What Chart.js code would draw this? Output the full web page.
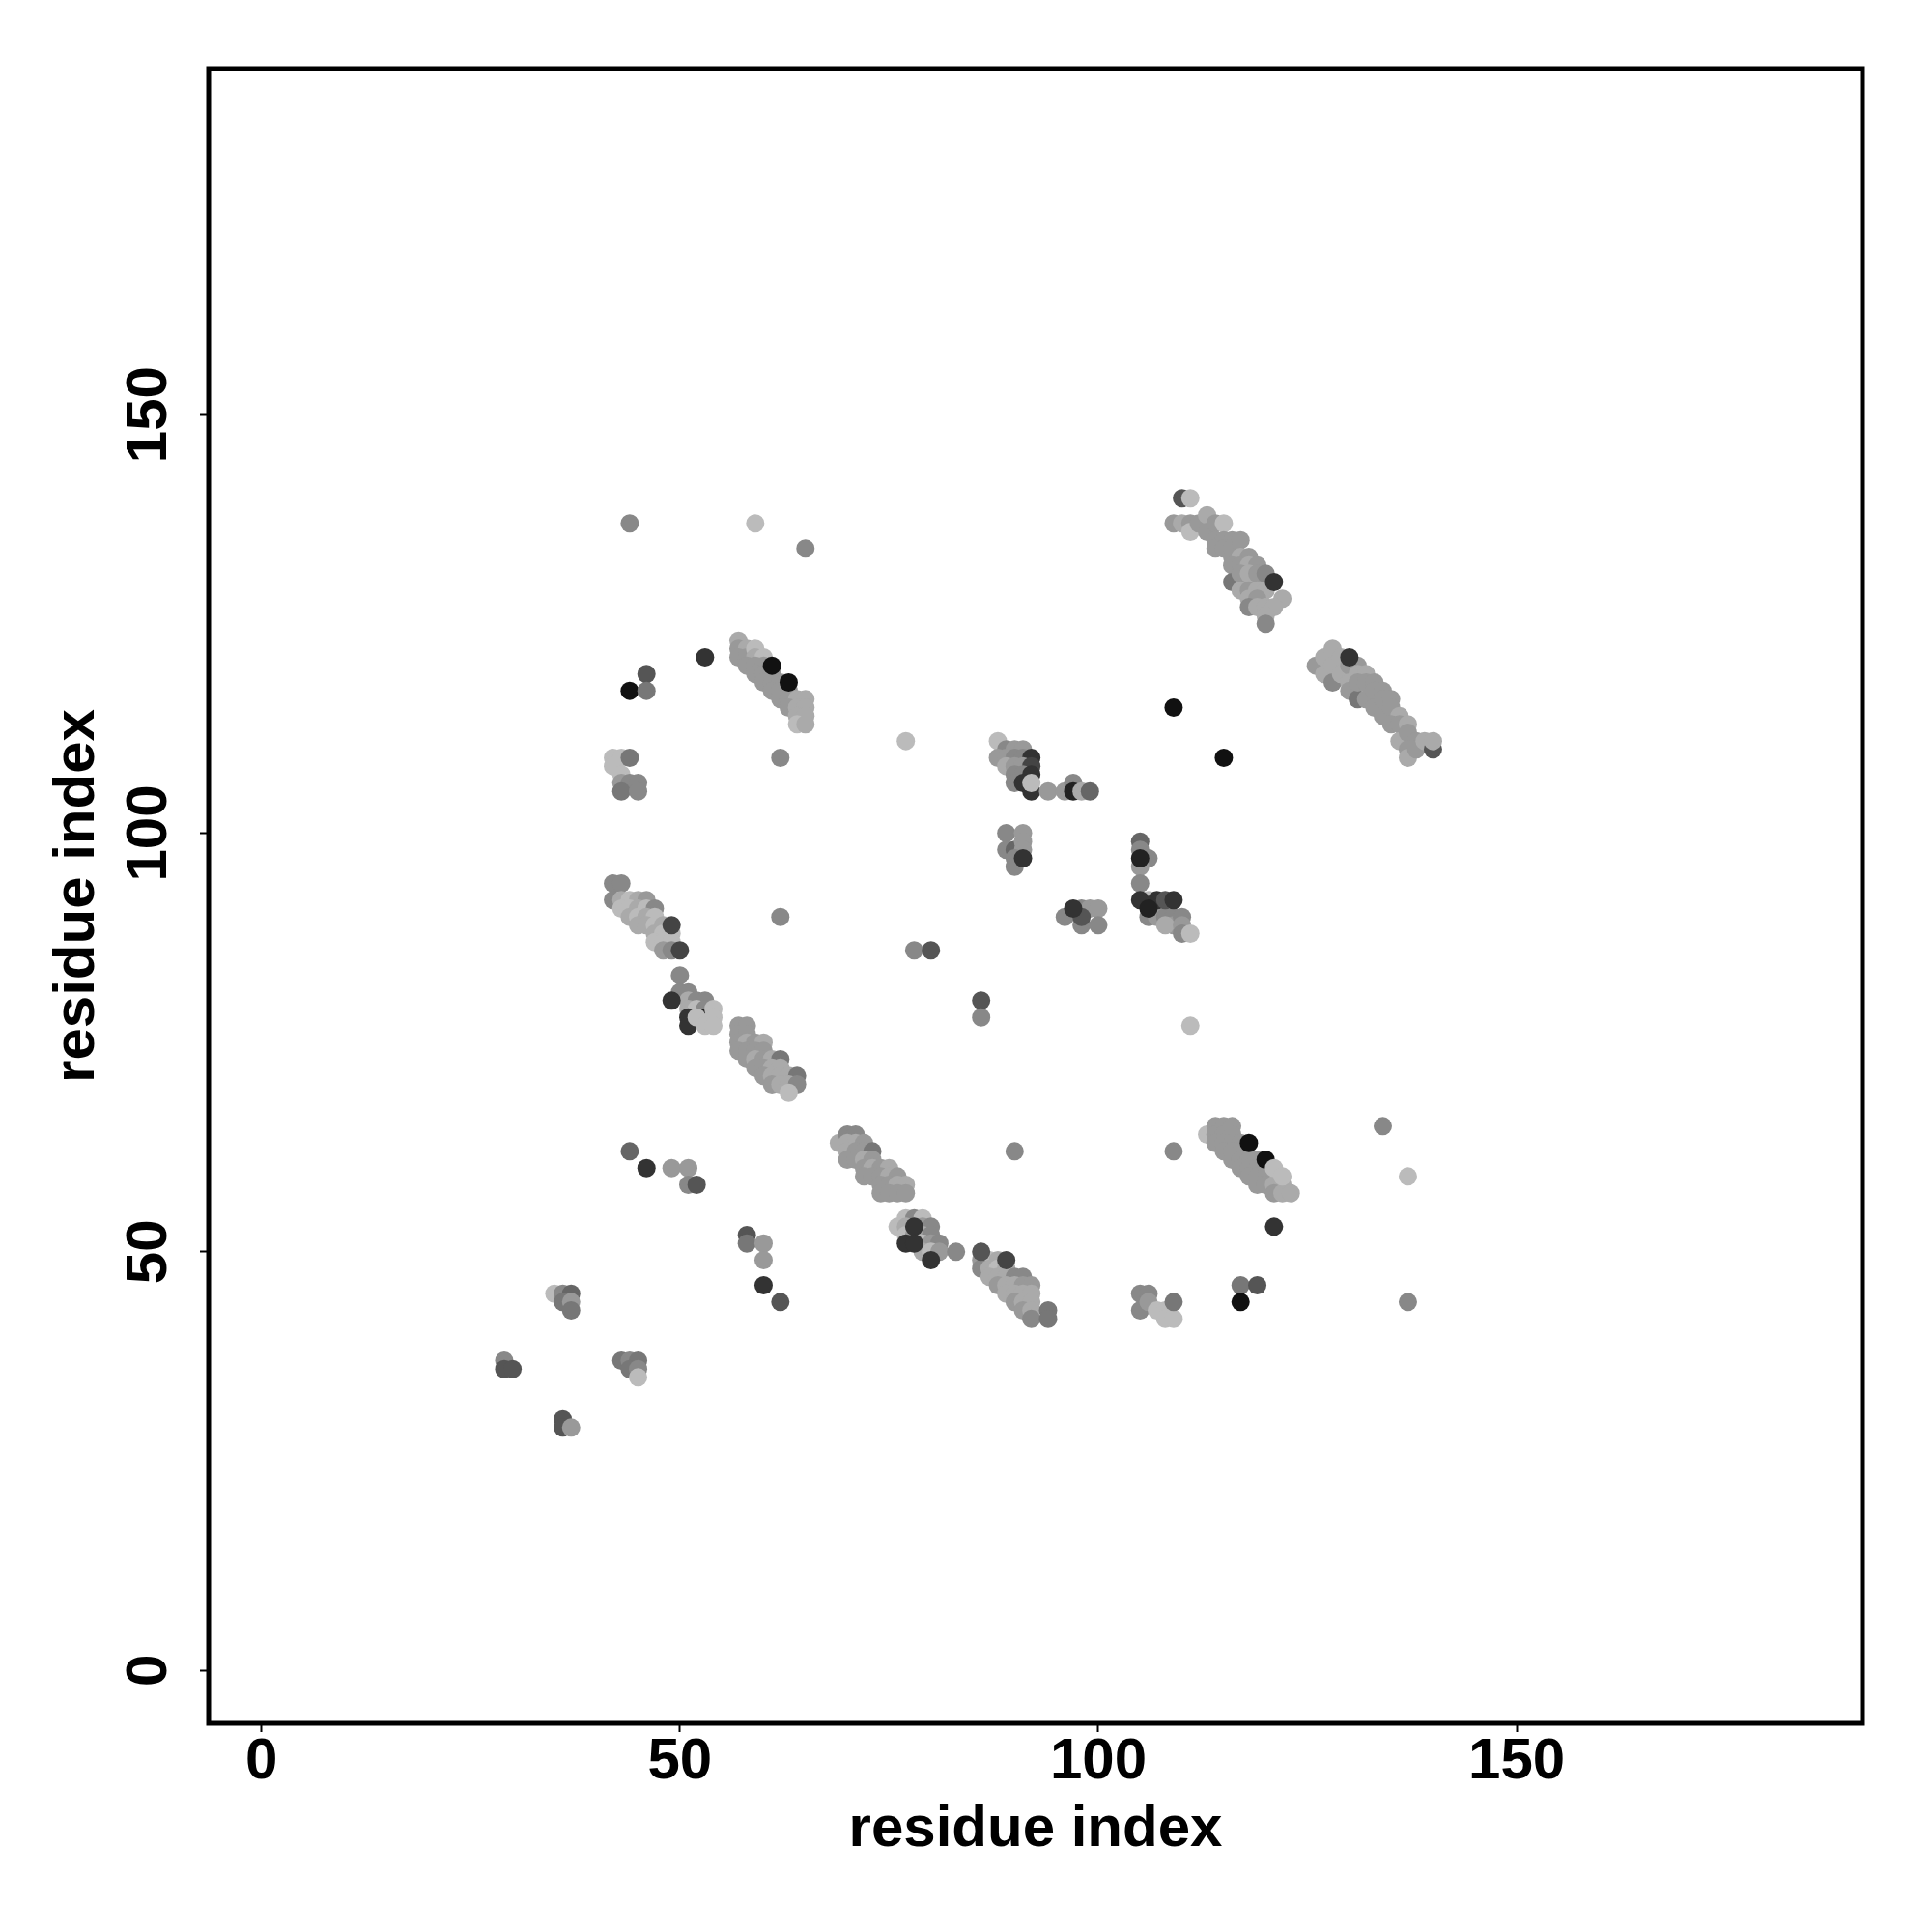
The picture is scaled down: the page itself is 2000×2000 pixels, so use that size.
<!DOCTYPE html>
<html>
<head>
<meta charset="utf-8">
<script src="https://cdn.jsdelivr.net/npm/chart.js@4.4.1/dist/chart.umd.min.js"></script>
<style>
  html, body { margin: 0; padding: 0; background: #fff; }
  canvas { display: block; }
</style>
</head>
<body>
<canvas id="contactMap" width="2000" height="2000"></canvas>
<script>
// residue pairs [i, j, grey level]
const strayContacts = [
  [44,137,0x88],[59,137,0xbb],[65,134,0x88],[53,121,0x33],[46,119,0x55],[44,117,0x11],
  [46,117,0x77],[62,109,0x88],[77,111,0xbb],[109,115,0x11],[115,109,0x11],[62,90,0x88],
  [78,86,0x88],[80,86,0x55],[86,80,0x55],[86,78,0x88],[111,77,0xbb],[90,62,0x88],
  [109,62,0x88],[134,65,0x88],[137,59,0xbb],[121,53,0x33],[117,46,0x77],[119,46,0x55],
  [117,44,0x11],[137,44,0x88]
];

const sheetTopRight = [
  [110,140,0x55],[111,140,0xbb],[109,137,0x99],[110,137,0xaa],[111,137,0x99],[111,136,0xbb],
  [112,137,0x99],[113,138,0xaa],[113,136,0x99],[114,137,0x99],[115,137,0xbb],[114,135,0x99],
  [115,135,0x99],[116,135,0x99],[114,134,0x99],[115,134,0x99],[116,134,0x99],[117,135,0x99],
  [116,133,0x99],[117,133,0xaa],[118,133,0x99],[116,132,0x99],[117,132,0x99],[118,132,0xaa],
  [119,132,0x99],[116,130,0x77],[117,131,0x99],[118,131,0xaa],[119,131,0x99],[120,131,0x88],
  [117,129,0xaa],[118,129,0x99],[119,129,0xaa],[120,129,0xaa],[118,128,0xaa],[119,128,0x99],
  [122,128,0xaa],[118,127,0x88],[119,127,0xaa],[120,127,0xaa],[121,127,0xaa],[120,126,0xaa],
  [120,125,0x88],[121,130,0x33]
];

const sheetRight = [
  [126,120,0x99],[127,121,0xaa],[128,122,0xaa],[127,119,0xaa],[128,120,0xaa],[129,121,0xaa],
  [128,118,0x88],[129,119,0xaa],[130,120,0x99],[131,120,0x99],[130,118,0xaa],[131,119,0xaa],
  [132,119,0xaa],[130,117,0x99],[131,116,0x77],[131,118,0x99],[132,118,0x99],[133,118,0x99],
  [132,116,0x99],[133,117,0x99],[134,117,0x99],[133,115,0x99],[134,116,0x99],[135,116,0x99],
  [134,114,0x99],[135,115,0x99],[136,114,0xaa],[135,113,0x99],[136,113,0x99],[137,113,0xaa],
  [136,111,0xaa],[137,112,0x99],[138,111,0x99],[137,110,0x99],[137,109,0xaa],[138,110,0x99],
  [139,111,0xaa],[140,110,0x55],[140,111,0xaa],[130,121,0x33]
];

const sheetUpperLeft = [
  [57,123,0xaa],[57,122,0x99],[58,122,0xaa],[57,121,0x99],[58,121,0x99],[59,122,0xbb],
  [59,121,0xaa],[60,121,0xbb],[58,120,0x99],[59,120,0x99],[60,120,0x99],[59,119,0x99],
  [60,119,0x99],[61,119,0x99],[60,118,0x99],[61,118,0x99],[62,118,0x99],[61,117,0x99],
  [62,117,0x99],[63,117,0x99],[62,116,0x99],[63,116,0x99],[64,116,0xaa],[65,116,0xaa],
  [63,115,0x99],[64,115,0xaa],[65,115,0xaa],[64,114,0xaa],[65,114,0xaa],[64,113,0xbb],
  [65,113,0xaa],[61,120,0x11],[63,118,0x11]
];

const patchNearTop = [
  [42,109,0xbb],[43,109,0xbb],[44,109,0x77],[42,108,0xbb],[43,107,0xbb],[43,106,0x99],
  [44,106,0x88],[45,106,0x88],[43,105,0x77],[45,105,0x88]
];

const helixMiddle = [
  [88,111,0xbb],[89,110,0x88],[90,110,0x99],[91,110,0x99],[88,109,0x99],[89,109,0x99],
  [90,109,0x88],[91,109,0x88],[92,109,0x33],[89,108,0xaa],[90,108,0x99],[91,108,0x99],
  [92,108,0x44],[90,107,0x88],[91,107,0x88],[92,107,0x33],[90,106,0x88],[91,106,0x33],
  [92,105,0x33],[92,106,0xbb],[94,105,0x99],[96,105,0x99],[97,106,0x88],[97,105,0x22],
  [98,105,0xaa],[99,105,0x66],
  [89,100,0x88],[91,100,0x99],[89,98,0x88],[90,98,0x66],[91,99,0x99],[91,98,0x99],
  [90,97,0x88],[90,96,0x88],[91,97,0x33],
  [96,90,0x88],[98,91,0x88],[99,91,0x99],[100,91,0x99],[98,89,0x88],[100,89,0x88],
  [98,90,0x55],[97,91,0x33]
];

const helixRight = [
  [105,99,0x66],[105,98,0x88],[106,97,0x88],[105,96,0x99],[105,97,0x22],[105,94,0x88],
  [106,92,0xbb],[107,91,0x88],[108,91,0x88],[106,90,0x88],[107,90,0x99],[108,90,0x88],
  [109,90,0x88],[109,89,0x99],[110,90,0x88],[108,89,0xaa],[110,89,0x99],[110,88,0x88],
  [111,88,0xbb],[105,92,0x33],[107,92,0x33],[108,92,0x55],[109,92,0x33],[106,91,0x22]
];

const sheetDiagonalUpper = [
  [42,94,0x88],[43,94,0x88],[42,92,0x88],[43,92,0xaa],[44,92,0xbb],[45,92,0xaa],
  [46,92,0x99],[43,91,0xbb],[44,91,0xbb],[45,91,0xaa],[46,91,0xbb],[47,91,0x88],
  [44,90,0xaa],[45,90,0xbb],[46,90,0xaa],[47,90,0xbb],[45,89,0xaa],[46,89,0xaa],
  [47,89,0xbb],[48,89,0xaa],[47,88,0xaa],[48,88,0xbb],[49,88,0xbb],[47,87,0xbb],
  [48,87,0xbb],[49,87,0xbb],[48,86,0x99],[49,86,0x88],[49,89,0x44],[50,86,0x44],
  [50,83,0x88],[50,81,0x88],[51,81,0x88],[51,80,0xaa],[52,80,0x88],[53,80,0x88],
  [51,79,0xaa],[52,79,0xbb],[53,79,0x88],[49,80,0x33],[51,78,0x33],[53,78,0x22],
  [51,77,0x33],[52,78,0xbb],[54,79,0xbb],[54,78,0xbb],[53,77,0xbb],[54,77,0xbb]
];

const sheetDiagonalLower = [
  [57,77,0x99],[58,77,0x99],[57,76,0x99],[58,76,0x99],[57,75,0x99],[58,75,0xaa],
  [59,75,0x99],[60,75,0xaa],[57,74,0x99],[58,74,0x99],[59,74,0x99],[60,74,0x99],
  [58,73,0x99],[59,73,0xaa],[60,73,0x99],[61,73,0xaa],[62,73,0x77],[59,72,0x99],
  [60,72,0x99],[61,72,0xaa],[62,72,0xaa],[60,71,0x99],[61,71,0xaa],[62,71,0xaa],
  [63,71,0xaa],[64,71,0x77],[61,70,0x99],[62,70,0xaa],[63,70,0xaa],[64,70,0x88],
  [63,69,0xbb]
];

const sheetCentral = [
  [69,63,0xaa],[70,64,0x88],[71,64,0x88],[70,63,0xaa],[71,63,0xaa],[72,63,0x99],
  [70,62,0xaa],[71,62,0x99],[72,62,0x99],[73,62,0x77],[70,61,0x99],[71,61,0x99],
  [72,61,0xaa],[73,61,0x99],[72,60,0x99],[73,60,0xaa],[74,60,0x99],[75,60,0xaa],
  [72,59,0x99],[73,59,0x99],[74,59,0x99],[75,59,0xaa],[76,59,0x99],[74,58,0x99],
  [75,58,0x99],[76,58,0xaa],[77,58,0xaa],[74,57,0x99],[75,57,0x99],[76,57,0x99],
  [77,57,0x99],
  [77,54,0xbb],[78,54,0x88],[79,54,0xbb],[76,53,0xbb],[77,53,0xaa],[79,53,0x99],
  [80,53,0x88],[77,52,0xbb],[78,52,0x99],[79,52,0xaa],[80,52,0x88],[79,51,0xbb],
  [80,51,0x99],[81,51,0x88],[79,50,0xaa],[80,50,0xbb],[81,50,0x99],[83,50,0x88],
  [78,53,0x33],[77,51,0x33],[78,51,0x33],[80,49,0x33]
];

const sheetLowerMiddle = [
  [86,49,0x99],[87,49,0xbb],[88,49,0xaa],[86,48,0x88],[87,48,0xaa],[88,48,0xbb],
  [89,48,0xaa],[87,47,0xaa],[88,47,0xaa],[89,47,0xaa],[90,47,0x88],[91,47,0x88],
  [88,46,0x99],[89,46,0xaa],[90,46,0xaa],[91,46,0x99],[92,46,0x99],[89,45,0xaa],
  [90,45,0xaa],[91,45,0xaa],[92,45,0xaa],[90,44,0x99],[91,44,0xaa],[92,44,0xaa],
  [91,43,0x99],[92,43,0xaa],[94,43,0x77],[92,42,0x88],[94,42,0x77],[86,50,0x55],
  [89,49,0x44]
];

const sheetLowerRight = [
  [113,64,0xbb],[114,65,0x99],[115,65,0x99],[116,65,0x99],[114,64,0x99],[115,64,0x99],
  [116,64,0x99],[114,63,0x99],[115,63,0x99],[116,63,0x99],[117,63,0x99],[115,62,0x99],
  [116,62,0x99],[117,62,0x99],[116,61,0x99],[117,61,0x99],[118,61,0x99],[119,61,0x99],
  [117,60,0x99],[118,60,0x99],[119,60,0x99],[118,59,0x99],[119,59,0x99],[120,59,0x99],
  [119,58,0x99],[120,58,0x99],[121,58,0xaa],[122,58,0xaa],[121,57,0x99],[122,57,0xaa],
  [123,57,0xaa],[118,63,0x11],[120,61,0x11],[121,60,0xbb],[122,59,0xbb]
];

const patchesLowLeft = [
  [44,62,0x66],[46,60,0x33],[49,60,0x99],[51,60,0x99],[51,58,0x88],[52,58,0x55],
  [58,52,0x55],[58,51,0x77],[60,51,0x99],[60,49,0x99],[60,46,0x33],[62,44,0x55],
  [35,45,0xbb],[36,45,0x88],[37,45,0x66],[36,44,0x77],[37,44,0x99],[37,43,0x77],
  [29,37,0x88],[29,36,0x55],[30,36,0x55],[43,37,0x77],[44,37,0x88],[45,37,0x77],
  [44,36,0x77],[45,36,0x88],[45,35,0xbb],[36,30,0x55],[36,29,0x55],[37,29,0x99]
];

const patchLowRight = [
  [105,45,0x88],[106,45,0x88],[105,43,0x88],[106,44,0x99],[107,43,0xbb],[108,43,0xbb],
  [108,42,0xbb],[109,42,0xbb],[109,44,0x77]
];

const tickValues = [0, 50, 100, 150];
const tickLabels = ['0', '50', '100', '150'];
const axisMin = -6.32;
const axisMax = 191.32;

const contacts = [].concat(
  patchesLowLeft, patchLowRight, patchNearTop, sheetDiagonalUpper, sheetDiagonalLower,
  sheetCentral, sheetLowerMiddle, sheetLowerRight, sheetUpperLeft, helixMiddle,
  helixRight, sheetTopRight, sheetRight, strayContacts
);

const fontFamily = '"Liberation Sans", Arial, Helvetica, sans-serif';
const fontSize = 60;

// box round the plot and rotated y tick labels (R style)
const framePlugin = {
  id: 'frame',
  afterDraw(chart) {
    const { ctx, chartArea } = chart;
    ctx.save();
    ctx.strokeStyle = '#000';
    ctx.lineWidth = 5;
    ctx.strokeRect(chartArea.left, chartArea.top,
      chartArea.right - chartArea.left, chartArea.bottom - chartArea.top);

    const yScale = chart.scales.y;
    ctx.fillStyle = '#000';
    ctx.font = 'bold ' + fontSize + 'px ' + fontFamily;
    ctx.textAlign = 'center';
    ctx.textBaseline = 'alphabetic';
    yScale.ticks.forEach(t => {
      const py = yScale.getPixelForValue(t.value);
      ctx.save();
      ctx.translate(172, py);
      ctx.rotate(-Math.PI / 2);
      ctx.fillText(tickLabels[tickValues.indexOf(t.value)], 0, 0);
      ctx.restore();
    });
    ctx.restore();
  }
};

const axisTicks = scale => { scale.ticks = tickValues.map(v => ({ value: v })); };

const ctx = document.getElementById('contactMap').getContext('2d');
new Chart(ctx, {
  type: 'scatter',
  data: {
    datasets: [{
      data: contacts.map(c => ({ x: c[0], y: c[1] })),
      pointBackgroundColor: contacts.map(c => `rgb(${c[2]},${c[2]},${c[2]})`),
      pointBorderWidth: 0,
      pointRadius: 9.5,
      pointHoverRadius: 9.5
    }]
  },
  options: {
    responsive: false,
    animation: false,
    events: [],
    layout: { padding: { left: 0, top: 71, right: 72, bottom: 0 } },
    plugins: { legend: { display: false }, tooltip: { enabled: false } },
    scales: {
      x: {
        type: 'linear',
        min: axisMin,
        max: axisMax,
        afterBuildTicks: axisTicks,
        afterFit: s => { s.height = 216; },
        border: { display: false },
        grid: { drawOnChartArea: false, drawTicks: true, tickLength: 9, tickWidth: 2, tickColor: '#000' },
        ticks: {
          color: '#000',
          padding: -5,
          maxRotation: 0,
          font: { family: fontFamily, size: fontSize, weight: 'bold' },
          callback: v => tickLabels[tickValues.indexOf(v)]
        },
        title: {
          display: true,
          text: 'residue index',
          color: '#000',
          font: { family: fontFamily, size: fontSize, weight: 'bold' },
          padding: { top: 0, bottom: 70 }
        }
      },
      y: {
        type: 'linear',
        min: axisMin,
        max: axisMax,
        afterBuildTicks: axisTicks,
        afterFit: s => { s.width = 216; },
        border: { display: false },
        grid: { drawOnChartArea: false, drawTicks: true, tickLength: 9, tickWidth: 2, tickColor: '#000' },
        ticks: {
          color: 'rgba(0,0,0,0)',
          font: { family: fontFamily, size: fontSize, weight: 'bold' },
          callback: v => tickLabels[tickValues.indexOf(v)]
        },
        title: {
          display: true,
          text: 'residue index',
          color: '#000',
          font: { family: fontFamily, size: fontSize, weight: 'bold' },
          padding: { top: 44, bottom: 0 }
        }
      }
    }
  },
  plugins: [framePlugin]
});
</script>
</body>
</html>
